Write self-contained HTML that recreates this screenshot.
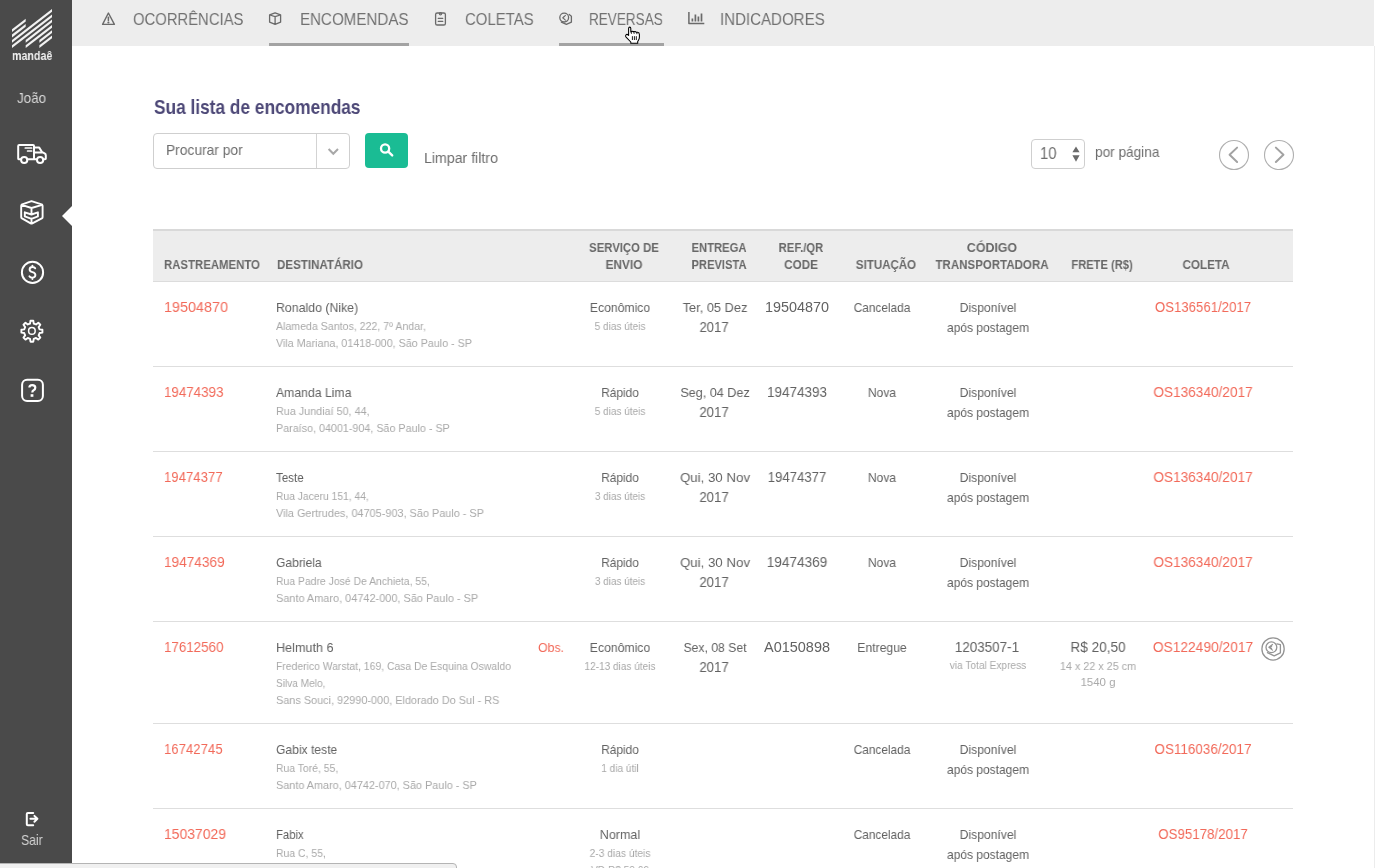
<!DOCTYPE html>
<html><head><meta charset="utf-8"><style>
html,body{margin:0;padding:0;}
body{width:1376px;height:868px;position:relative;overflow:hidden;background:#fff;font-family:"Liberation Sans",sans-serif;}
.t{position:absolute;white-space:nowrap;will-change:transform;}
</style></head><body>
<div style="position:absolute;left:0px;top:0px;width:72px;height:868px;background:#4a4a4a"></div>
<div style="position:absolute;left:72px;top:0px;width:1302px;height:46px;background:#ededed"></div>
<div style="position:absolute;left:1374px;top:46px;width:1px;height:822px;background:#ececec"></div>
<svg width="72" height="868" style="position:absolute;left:0;top:0">
<g fill="#f2f2f2"><polygon points="12,29.23 25.7,18.65 25.7,21.40 12,31.98"/><polygon points="12,34.62 25.7,24.05 25.7,26.80 12,37.38"/><polygon points="12,39.92 52,9.04 52,11.79 12,42.67"/><polygon points="12,45.33 52,14.45 52,17.20 12,48.08"/><polygon points="25.7,39.92 52,19.62 52,22.37 25.7,42.67"/><polygon points="25.7,45.33 52,25.02 52,27.77 25.7,48.08"/><polygon points="39.4,39.92 52,30.20 52,32.95 39.4,42.67"/><polygon points="39.4,45.33 52,35.60 52,38.35 39.4,48.08"/></g>
<g fill="none" stroke="#fff" stroke-width="2" stroke-linecap="round" stroke-linejoin="round">
 <path d="M20.9 159.2 H18.6 Q18.2 159.2 18.2 158.6 V146 Q18.2 145 19.2 145 H33 Q34 145 34 146 V159.2 M34 147.6 H39.2 L42.2 152.2 L44.6 153.4 Q45.8 154 45.8 155.2 V158.4 Q45.8 159.2 45 159.2 H43.6 M27.3 159.2 H36.9 M34 152.6 H42.6"/>
 <circle cx="24.2" cy="160" r="3.1"/>
 <circle cx="40.1" cy="160" r="3.1"/>
 <path d="M25.3 148 H31.6 M27.6 151 H31.6" stroke-width="1.7"/>
 <path d="M31.5 201.2 L41.6 204.4 Q42.6 204.8 42.6 205.8 V217.2 Q42.6 218 41.8 218.4 L32.3 223.4 Q31.5 223.8 30.7 223.4 L22 218.4 Q21.2 218 21.2 217.2 V205.8 Q21.2 204.8 22.2 204.4 Z M21.6 204.8 L31.5 208 L42.2 204.8 M31.5 208 V214.5 M31.5 218.8 V223.5 M24.8 212.3 L31.5 214.5 L37.9 212.3 V216.4 L31.5 218.8 L24.8 216.4 Z" stroke-width="1.9"/>
 <circle cx="32.5" cy="272.4" r="10.6"/>
 <path d="M35.2 268.3 Q34.5 267 32.4 267 Q29.6 267 29.6 269.5 Q29.6 271.5 32.4 272.2 Q35.4 272.9 35.4 275.1 Q35.4 277.6 32.4 277.6 Q30.2 277.6 29.4 276.2 M32.4 265.6 V267 M32.4 277.6 V279" stroke-width="1.9"/>
 <path d="M26.6 387.5 V380.2 M0 0" stroke-width="0"/>
 <rect x="22.1" y="379.8" width="20.8" height="21.1" rx="5" ry="5"/>
 <path d="M29.4 387.6 Q29.4 385.2 32.2 385.2 Q35.3 385.2 35.3 387.8 Q35.3 389.4 33.6 390.2 Q32.3 390.9 32.3 392.4" stroke-width="2.2" stroke-linecap="butt"/>
 <circle cx="31.9" cy="330.9" r="3.3" stroke-width="1.5"/>
 <path d="M33.2 812.9 H27.8 Q26.8 812.9 26.8 813.9 V824.3 Q26.8 825.3 27.8 825.3 H33.2" stroke-width="2"/>
 <path d="M30.4 818.8 H37.2 M34.4 815.9 L37.4 818.8 L34.4 821.8" stroke-width="2"/>
</g>
<rect x="30.6" y="394.2" width="2.8" height="2.6" fill="#fff"/>
<polygon points="30.06,323.52 30.49,320.69 33.31,320.69 33.74,323.52 36.03,324.46 38.33,322.77 40.33,324.77 38.64,327.07 39.58,329.36 42.41,329.79 42.41,332.61 39.58,333.04 38.64,335.33 40.33,337.63 38.33,339.63 36.03,337.94 33.74,338.88 33.31,341.71 30.49,341.71 30.06,338.88 27.77,337.94 25.47,339.63 23.47,337.63 25.16,335.33 24.22,333.04 21.39,332.61 21.39,329.79 24.22,329.36 25.16,327.07 23.47,324.77 25.47,322.77 27.77,324.46" fill="none" stroke="#fff" stroke-width="1.9" stroke-linejoin="round"/>
<polygon points="62,216 72,206 72,226" fill="#fff"/>
</svg>
<div class="t" style="left:11.80px;top:46.93px;font-size:13.2px;line-height:17px;color:#f0f0f0;font-weight:bold;transform:scaleX(0.8097);transform-origin:0 0;">mandaê</div>
<div class="t" style="left:17.40px;top:89.34px;font-size:14.6px;line-height:19px;color:#d8d8d8;transform:scaleX(0.9185);transform-origin:0 0;">João</div>
<div class="t" style="left:21.20px;top:830.54px;font-size:14.6px;line-height:19px;color:#d4d4d4;transform:scaleX(0.8388);transform-origin:0 0;">Sair</div>
<div class="t" style="left:133.00px;top:8.91px;font-size:17px;line-height:22px;color:#717171;transform:scaleX(0.8723);transform-origin:0 0;">OCORRÊNCIAS</div>
<div class="t" style="left:299.80px;top:8.91px;font-size:17px;line-height:22px;color:#717171;transform:scaleX(0.8901);transform-origin:0 0;">ENCOMENDAS</div>
<div class="t" style="left:464.50px;top:8.91px;font-size:17px;line-height:22px;color:#717171;transform:scaleX(0.8782);transform-origin:0 0;">COLETAS</div>
<div class="t" style="left:589.30px;top:8.91px;font-size:17px;line-height:22px;color:#717171;transform:scaleX(0.7962);transform-origin:0 0;">REVERSAS</div>
<div class="t" style="left:719.50px;top:8.91px;font-size:17px;line-height:22px;color:#717171;transform:scaleX(0.8868);transform-origin:0 0;">INDICADORES</div>
<div style="position:absolute;left:269px;top:43px;width:140px;height:3px;background:#a3a3a3"></div>
<div style="position:absolute;left:559px;top:43px;width:105px;height:3px;background:#a3a3a3"></div>
<svg width="1376" height="60" style="position:absolute;left:0;top:0">
<g fill="none" stroke="#6a6a6a" stroke-width="1.4" stroke-linejoin="round" stroke-linecap="round">
 <path d="M108.4 13 L114.4 24.4 H102.6 Z"/>
 <path d="M108.4 17.2 V20.4" stroke-width="1.5"/>
 <circle cx="108.4" cy="22.5" r="0.5" stroke-width="1.2"/>
 <path d="M275.1 12.8 L280.6 14.9 V22.2 L275.1 24.4 L269.6 22.2 V14.9 Z M269.9 15 L275.1 16.6 L280.3 15 M275.1 16.6 V24.2" stroke-width="1.3"/>
 <rect x="435.6" y="13" width="9.8" height="12" rx="1.6" stroke-width="1.3"/>
 <circle cx="440.5" cy="13.8" r="1.1" stroke-width="1.2"/>
 <path d="M438.3 18.4 H442.7 M438.3 21.4 H442.7" stroke-width="1.3"/>
 <path d="M569.2 14.4 L571.4 16.2 V22.2 L566.4 24.4 L561.4 22.2" stroke-width="1.3"/>
 <circle cx="564.2" cy="17.6" r="4.4" stroke-width="1.3"/>
 <path d="M565.4 15.4 L563 17.8 L565.4 20.2 M563.9 16.6 L562.7 17.8" stroke-width="1.1"/>
 <path d="M688.9 12 V23.5 H704.3" stroke-width="1.5" stroke-linecap="butt"/>
 <path d="M692.4 18.6 V21.4 M695.4 14.5 V21.4 M698.4 16.6 V21.4 M701.5 13.5 V21.4" stroke-width="1.7" stroke-linecap="butt"/>
</g>
<path d="M8.6 13.4 V6.4 Q8.6 5.1 9.7 5.1 Q10.8 5.1 10.8 6.4 V10 Q11 9.2 12.1 9.2 Q13.2 9.2 13.4 10 Q13.8 9.5 14.8 9.5 Q15.9 9.5 16.2 10.4 Q16.6 10.1 17.5 10.2 Q19.4 10.5 19.4 12.4 V15 Q19.4 16.6 18.6 18 L17.7 19.6 V21.2 H10.8 V20 L6.1 15.1 Q5 13.8 6 12.8 Q7.2 11.8 8.6 13.4 Z" transform="translate(620,22)" fill="#fff" stroke="#000" stroke-width="1.05" stroke-linejoin="round"/>
<path d="M11.4 10.2 V11.8 M14.1 10.2 V11.8 M16.9 10.6 V12.2 M12.4 14.2 V18 M14.4 14.2 V18 M16.3 14.2 V18" transform="translate(620,22)" stroke="#000" stroke-width="0.9"/>
</svg>
<div class="t" style="left:153.60px;top:94.30px;font-size:19.9px;line-height:26px;color:#4d4877;font-weight:bold;transform:scaleX(0.8688);transform-origin:0 0;">Sua lista de encomendas</div>
<div style="position:absolute;left:153px;top:133px;width:197px;height:36px;box-sizing:border-box;border:1px solid #cfcfcf;border-radius:4px;background:#fff"></div>
<div style="position:absolute;left:316px;top:134px;width:1px;height:34px;background:#d3d3d3"></div>
<div class="t" style="left:166.40px;top:141.17px;font-size:14.8px;line-height:19px;color:#6e6e6e;transform:scaleX(0.9333);transform-origin:0 0;">Procurar por</div>
<div style="position:absolute;left:365px;top:133px;width:43px;height:35px;background:#1abc94;border-radius:4px"></div>
<div style="position:absolute;left:1031px;top:139px;width:54px;height:30px;box-sizing:border-box;border:1px solid #cfcfcf;border-radius:4px;background:#fff"></div>
<svg width="1376" height="200" style="position:absolute;left:0;top:0">
<path d="M328.6 149 L333.3 153.8 L338 149" fill="none" stroke="#a8a8a8" stroke-width="2"/>
<circle cx="385.1" cy="148.5" r="4.1" fill="none" stroke="#fff" stroke-width="2.3"/>
<path d="M388.3 151.7 L392.2 155.4" stroke="#fff" stroke-width="2.4" stroke-linecap="round"/>
<circle cx="1234" cy="155" r="14.5" fill="none" stroke="#b0b0b0" stroke-width="1.1"/>
<circle cx="1279" cy="155" r="14.5" fill="none" stroke="#b0b0b0" stroke-width="1.1"/>
<path d="M1237.1 147.6 L1229.6 154.8 L1237.1 162" fill="none" stroke="#a2a2a2" stroke-width="2" stroke-linecap="round" stroke-linejoin="round"/>
<path d="M1275.9 147.6 L1283.4 154.8 L1275.9 162" fill="none" stroke="#a2a2a2" stroke-width="2" stroke-linecap="round" stroke-linejoin="round"/>
<path d="M1076 146.4 L1079.6 152.2 H1072.4 Z M1076 161.8 L1079.6 155.2 H1072.4 Z" fill="#6a6a6a"/>
</svg>
<div class="t" style="left:424.00px;top:147.93px;font-size:15.2px;line-height:20px;color:#6e6e6e;transform:scaleX(0.9318);transform-origin:0 0;">Limpar filtro</div>
<div class="t" style="left:1039.60px;top:142.51px;font-size:17px;line-height:22px;color:#6e6e6e;transform:scaleX(0.8691);transform-origin:0 0;">10</div>
<div class="t" style="left:1095.00px;top:142.98px;font-size:14.2px;line-height:18px;color:#6e6e6e;transform:scaleX(0.9603);transform-origin:0 0;">por página</div>
<div style="position:absolute;left:153px;top:229px;width:1140px;height:2px;background:#d9d9d9"></div>
<div style="position:absolute;left:153px;top:231px;width:1140px;height:50px;background:#ededed"></div>
<div style="position:absolute;left:153px;top:281px;width:1140px;height:1px;background:#dcdcdc"></div>
<div class="t" style="left:163.50px;top:255.93px;font-size:12.9px;line-height:17px;color:#686868;font-weight:bold;transform:scaleX(0.8833);transform-origin:0 0;">RASTREAMENTO</div>
<div class="t" style="left:276.50px;top:255.93px;font-size:12.9px;line-height:17px;color:#686868;font-weight:bold;transform:scaleX(0.8979);transform-origin:0 0;">DESTINATÁRIO</div>
<div class="t" style="left:324.00px;width:600px;text-align:center;top:238.93px;font-size:12.9px;line-height:17px;color:#686868;font-weight:bold;transform:scaleX(0.8798);transform-origin:50% 0;">SERVIÇO DE</div>
<div class="t" style="left:324.01px;width:600px;text-align:center;top:255.93px;font-size:12.9px;line-height:17px;color:#686868;font-weight:bold;transform:scaleX(0.9223);transform-origin:50% 0;">ENVIO</div>
<div class="t" style="left:418.50px;width:600px;text-align:center;top:238.93px;font-size:12.9px;line-height:17px;color:#686868;font-weight:bold;transform:scaleX(0.8719);transform-origin:50% 0;">ENTREGA</div>
<div class="t" style="left:418.51px;width:600px;text-align:center;top:255.93px;font-size:12.9px;line-height:17px;color:#686868;font-weight:bold;transform:scaleX(0.8657);transform-origin:50% 0;">PREVISTA</div>
<div class="t" style="left:501.00px;width:600px;text-align:center;top:238.93px;font-size:12.9px;line-height:17px;color:#686868;font-weight:bold;transform:scaleX(0.8784);transform-origin:50% 0;">REF./QR</div>
<div class="t" style="left:501.00px;width:600px;text-align:center;top:255.93px;font-size:12.9px;line-height:17px;color:#686868;font-weight:bold;transform:scaleX(0.9120);transform-origin:50% 0;">CODE</div>
<div class="t" style="left:585.91px;width:600px;text-align:center;top:255.93px;font-size:12.9px;line-height:17px;color:#686868;font-weight:bold;transform:scaleX(0.8940);transform-origin:50% 0;">SITUAÇÃO</div>
<div class="t" style="left:691.80px;width:600px;text-align:center;top:238.93px;font-size:12.9px;line-height:17px;color:#686868;font-weight:bold;transform:scaleX(0.9616);transform-origin:50% 0;">CÓDIGO</div>
<div class="t" style="left:691.80px;width:600px;text-align:center;top:255.93px;font-size:12.9px;line-height:17px;color:#686868;font-weight:bold;transform:scaleX(0.8941);transform-origin:50% 0;">TRANSPORTADORA</div>
<div class="t" style="left:802.00px;width:600px;text-align:center;top:255.93px;font-size:12.9px;line-height:17px;color:#686868;font-weight:bold;transform:scaleX(0.8640);transform-origin:50% 0;">FRETE (R$)</div>
<div class="t" style="left:906.41px;width:600px;text-align:center;top:255.93px;font-size:12.9px;line-height:17px;color:#686868;font-weight:bold;transform:scaleX(0.9030);transform-origin:50% 0;">COLETA</div>
<div class="t" style="left:163.60px;top:297.00px;font-size:15.0px;line-height:20px;color:#f26a5a;transform:scaleX(0.9588);transform-origin:0 0;">19504870</div>
<div class="t" style="left:276.40px;top:299.09px;font-size:13.3px;line-height:17px;color:#626262;transform:scaleX(0.9266);transform-origin:0 0;">Ronaldo (Nike)</div>
<div class="t" style="left:276.40px;top:319.12px;font-size:11.5px;line-height:15px;color:#a9a9a9;transform:scaleX(0.9215);transform-origin:0 0;">Alameda Santos, 222, 7º Andar,</div>
<div class="t" style="left:276.40px;top:336.12px;font-size:11.5px;line-height:15px;color:#a9a9a9;transform:scaleX(0.9324);transform-origin:0 0;">Vila Mariana, 01418-000, São Paulo - SP</div>
<div class="t" style="left:320.21px;width:600px;text-align:center;top:299.09px;font-size:13.3px;line-height:17px;color:#626262;transform:scaleX(0.9153);transform-origin:50% 0;">Econômico</div>
<div class="t" style="left:320.09px;width:600px;text-align:center;top:318.71px;font-size:11.8px;line-height:15px;color:#a9a9a9;transform:scaleX(0.8525);transform-origin:50% 0;">5 dias úteis</div>
<div class="t" style="left:414.69px;width:600px;text-align:center;top:299.06px;font-size:13.4px;line-height:17px;color:#626262;transform:scaleX(0.9557);transform-origin:50% 0;">Ter, 05 Dez</div>
<div class="t" style="left:414.30px;width:600px;text-align:center;top:318.92px;font-size:13.8px;line-height:18px;color:#626262;transform:scaleX(0.9510);transform-origin:50% 0;">2017</div>
<div class="t" style="left:497.00px;width:600px;text-align:center;top:297.71px;font-size:14.4px;line-height:19px;color:#626262;transform:scaleX(1.0003);transform-origin:50% 0;">19504870</div>
<div class="t" style="left:581.98px;width:600px;text-align:center;top:299.09px;font-size:13.3px;line-height:17px;color:#626262;transform:scaleX(0.8894);transform-origin:50% 0;">Cancelada</div>
<div class="t" style="left:687.69px;width:600px;text-align:center;top:299.09px;font-size:13.3px;line-height:17px;color:#626262;transform:scaleX(0.9129);transform-origin:50% 0;">Disponível</div>
<div class="t" style="left:687.59px;width:600px;text-align:center;top:318.69px;font-size:13.3px;line-height:17px;color:#626262;transform:scaleX(0.9014);transform-origin:50% 0;">após postagem</div>
<div class="t" style="left:902.60px;width:600px;text-align:center;top:297.54px;font-size:14.9px;line-height:19px;color:#f26a5a;transform:scaleX(0.8853);transform-origin:50% 0;">OS136561/2017</div>
<div style="position:absolute;left:153px;top:366px;width:1140px;height:1px;background:#dedede"></div>
<div class="t" style="left:163.60px;top:382.00px;font-size:15.0px;line-height:20px;color:#f26a5a;transform:scaleX(0.8899);transform-origin:0 0;">19474393</div>
<div class="t" style="left:276.40px;top:384.09px;font-size:13.3px;line-height:17px;color:#626262;transform:scaleX(0.9193);transform-origin:0 0;">Amanda Lima</div>
<div class="t" style="left:276.40px;top:404.12px;font-size:11.5px;line-height:15px;color:#a9a9a9;transform:scaleX(0.9382);transform-origin:0 0;">Rua Jundiaí 50, 44,</div>
<div class="t" style="left:276.40px;top:421.12px;font-size:11.5px;line-height:15px;color:#a9a9a9;transform:scaleX(0.9341);transform-origin:0 0;">Paraíso, 04001-904, São Paulo - SP</div>
<div class="t" style="left:320.19px;width:600px;text-align:center;top:384.09px;font-size:13.3px;line-height:17px;color:#626262;transform:scaleX(0.8894);transform-origin:50% 0;">Rápido</div>
<div class="t" style="left:320.09px;width:600px;text-align:center;top:403.71px;font-size:11.8px;line-height:15px;color:#a9a9a9;transform:scaleX(0.8491);transform-origin:50% 0;">5 dias úteis</div>
<div class="t" style="left:414.69px;width:600px;text-align:center;top:384.06px;font-size:13.4px;line-height:17px;color:#626262;transform:scaleX(0.9408);transform-origin:50% 0;">Seg, 04 Dez</div>
<div class="t" style="left:414.30px;width:600px;text-align:center;top:403.92px;font-size:13.8px;line-height:18px;color:#626262;transform:scaleX(0.9575);transform-origin:50% 0;">2017</div>
<div class="t" style="left:497.00px;width:600px;text-align:center;top:382.71px;font-size:14.4px;line-height:19px;color:#626262;transform:scaleX(0.9363);transform-origin:50% 0;">19474393</div>
<div class="t" style="left:581.97px;width:600px;text-align:center;top:384.09px;font-size:13.3px;line-height:17px;color:#626262;transform:scaleX(0.9061);transform-origin:50% 0;">Nova</div>
<div class="t" style="left:687.69px;width:600px;text-align:center;top:384.09px;font-size:13.3px;line-height:17px;color:#626262;transform:scaleX(0.9129);transform-origin:50% 0;">Disponível</div>
<div class="t" style="left:687.59px;width:600px;text-align:center;top:403.69px;font-size:13.3px;line-height:17px;color:#626262;transform:scaleX(0.9014);transform-origin:50% 0;">após postagem</div>
<div class="t" style="left:902.60px;width:600px;text-align:center;top:382.54px;font-size:14.9px;line-height:19px;color:#f26a5a;transform:scaleX(0.9148);transform-origin:50% 0;">OS136340/2017</div>
<div style="position:absolute;left:153px;top:451px;width:1140px;height:1px;background:#dedede"></div>
<div class="t" style="left:163.60px;top:467.00px;font-size:15.0px;line-height:20px;color:#f26a5a;transform:scaleX(0.8779);transform-origin:0 0;">19474377</div>
<div class="t" style="left:276.40px;top:469.09px;font-size:13.3px;line-height:17px;color:#626262;transform:scaleX(0.8683);transform-origin:0 0;">Teste</div>
<div class="t" style="left:276.40px;top:489.12px;font-size:11.5px;line-height:15px;color:#a9a9a9;transform:scaleX(0.8961);transform-origin:0 0;">Rua Jaceru 151, 44,</div>
<div class="t" style="left:276.40px;top:506.12px;font-size:11.5px;line-height:15px;color:#a9a9a9;transform:scaleX(0.9467);transform-origin:0 0;">Vila Gertrudes, 04705-903, São Paulo - SP</div>
<div class="t" style="left:320.19px;width:600px;text-align:center;top:469.09px;font-size:13.3px;line-height:17px;color:#626262;transform:scaleX(0.8894);transform-origin:50% 0;">Rápido</div>
<div class="t" style="left:320.09px;width:600px;text-align:center;top:488.71px;font-size:11.8px;line-height:15px;color:#a9a9a9;transform:scaleX(0.8424);transform-origin:50% 0;">3 dias úteis</div>
<div class="t" style="left:414.70px;width:600px;text-align:center;top:469.06px;font-size:13.4px;line-height:17px;color:#626262;transform:scaleX(0.9894);transform-origin:50% 0;">Qui, 30 Nov</div>
<div class="t" style="left:414.30px;width:600px;text-align:center;top:488.92px;font-size:13.8px;line-height:18px;color:#626262;transform:scaleX(0.9575);transform-origin:50% 0;">2017</div>
<div class="t" style="left:497.00px;width:600px;text-align:center;top:467.71px;font-size:14.4px;line-height:19px;color:#626262;transform:scaleX(0.9145);transform-origin:50% 0;">19474377</div>
<div class="t" style="left:581.97px;width:600px;text-align:center;top:469.09px;font-size:13.3px;line-height:17px;color:#626262;transform:scaleX(0.9061);transform-origin:50% 0;">Nova</div>
<div class="t" style="left:687.69px;width:600px;text-align:center;top:469.09px;font-size:13.3px;line-height:17px;color:#626262;transform:scaleX(0.9129);transform-origin:50% 0;">Disponível</div>
<div class="t" style="left:687.59px;width:600px;text-align:center;top:488.69px;font-size:13.3px;line-height:17px;color:#626262;transform:scaleX(0.9014);transform-origin:50% 0;">após postagem</div>
<div class="t" style="left:902.60px;width:600px;text-align:center;top:467.54px;font-size:14.9px;line-height:19px;color:#f26a5a;transform:scaleX(0.9148);transform-origin:50% 0;">OS136340/2017</div>
<div style="position:absolute;left:153px;top:536px;width:1140px;height:1px;background:#dedede"></div>
<div class="t" style="left:163.60px;top:552.00px;font-size:15.0px;line-height:20px;color:#f26a5a;transform:scaleX(0.9079);transform-origin:0 0;">19474369</div>
<div class="t" style="left:276.40px;top:554.09px;font-size:13.3px;line-height:17px;color:#626262;transform:scaleX(0.9098);transform-origin:0 0;">Gabriela</div>
<div class="t" style="left:276.40px;top:574.12px;font-size:11.5px;line-height:15px;color:#a9a9a9;transform:scaleX(0.9046);transform-origin:0 0;">Rua Padre José De Anchieta, 55,</div>
<div class="t" style="left:276.40px;top:591.12px;font-size:11.5px;line-height:15px;color:#a9a9a9;transform:scaleX(0.9496);transform-origin:0 0;">Santo Amaro, 04742-000, São Paulo - SP</div>
<div class="t" style="left:320.19px;width:600px;text-align:center;top:554.09px;font-size:13.3px;line-height:17px;color:#626262;transform:scaleX(0.8894);transform-origin:50% 0;">Rápido</div>
<div class="t" style="left:320.09px;width:600px;text-align:center;top:573.71px;font-size:11.8px;line-height:15px;color:#a9a9a9;transform:scaleX(0.8424);transform-origin:50% 0;">3 dias úteis</div>
<div class="t" style="left:414.70px;width:600px;text-align:center;top:554.06px;font-size:13.4px;line-height:17px;color:#626262;transform:scaleX(0.9894);transform-origin:50% 0;">Qui, 30 Nov</div>
<div class="t" style="left:414.30px;width:600px;text-align:center;top:573.92px;font-size:13.8px;line-height:18px;color:#626262;transform:scaleX(0.9575);transform-origin:50% 0;">2017</div>
<div class="t" style="left:497.00px;width:600px;text-align:center;top:552.71px;font-size:14.4px;line-height:19px;color:#626262;transform:scaleX(0.9457);transform-origin:50% 0;">19474369</div>
<div class="t" style="left:581.97px;width:600px;text-align:center;top:554.09px;font-size:13.3px;line-height:17px;color:#626262;transform:scaleX(0.9061);transform-origin:50% 0;">Nova</div>
<div class="t" style="left:687.69px;width:600px;text-align:center;top:554.09px;font-size:13.3px;line-height:17px;color:#626262;transform:scaleX(0.9129);transform-origin:50% 0;">Disponível</div>
<div class="t" style="left:687.59px;width:600px;text-align:center;top:573.69px;font-size:13.3px;line-height:17px;color:#626262;transform:scaleX(0.9014);transform-origin:50% 0;">após postagem</div>
<div class="t" style="left:902.60px;width:600px;text-align:center;top:552.54px;font-size:14.9px;line-height:19px;color:#f26a5a;transform:scaleX(0.9148);transform-origin:50% 0;">OS136340/2017</div>
<div style="position:absolute;left:153px;top:621px;width:1140px;height:1px;background:#dedede"></div>
<div class="t" style="left:163.60px;top:637.00px;font-size:15.0px;line-height:20px;color:#f26a5a;transform:scaleX(0.8899);transform-origin:0 0;">17612560</div>
<div class="t" style="left:276.40px;top:639.09px;font-size:13.3px;line-height:17px;color:#626262;transform:scaleX(0.9497);transform-origin:0 0;">Helmuth 6</div>
<div class="t" style="left:276.40px;top:659.12px;font-size:11.5px;line-height:15px;color:#a9a9a9;transform:scaleX(0.9026);transform-origin:0 0;">Frederico Warstat, 169, Casa De Esquina Oswaldo</div>
<div class="t" style="left:276.40px;top:676.12px;font-size:11.5px;line-height:15px;color:#a9a9a9;transform:scaleX(0.8785);transform-origin:0 0;">Silva Melo,</div>
<div class="t" style="left:276.40px;top:693.12px;font-size:11.5px;line-height:15px;color:#a9a9a9;transform:scaleX(0.9465);transform-origin:0 0;">Sans Souci, 92990-000, Eldorado Do Sul - RS</div>
<div class="t" style="left:-36.38px;width:600px;text-align:right;top:639.09px;font-size:13.3px;line-height:17px;color:#f26a5a;transform:scaleX(0.9265);transform-origin:100% 0;">Obs.</div>
<div class="t" style="left:320.21px;width:600px;text-align:center;top:639.09px;font-size:13.3px;line-height:17px;color:#626262;transform:scaleX(0.9184);transform-origin:50% 0;">Econômico</div>
<div class="t" style="left:320.10px;width:600px;text-align:center;top:658.71px;font-size:11.8px;line-height:15px;color:#a9a9a9;transform:scaleX(0.8523);transform-origin:50% 0;">12-13 dias úteis</div>
<div class="t" style="left:414.70px;width:600px;text-align:center;top:639.06px;font-size:13.4px;line-height:17px;color:#626262;transform:scaleX(0.9108);transform-origin:50% 0;">Sex, 08 Set</div>
<div class="t" style="left:414.30px;width:600px;text-align:center;top:658.92px;font-size:13.8px;line-height:18px;color:#626262;transform:scaleX(0.9575);transform-origin:50% 0;">2017</div>
<div class="t" style="left:497.00px;width:600px;text-align:center;top:637.71px;font-size:14.4px;line-height:19px;color:#626262;transform:scaleX(1.0051);transform-origin:50% 0;">A0150898</div>
<div class="t" style="left:581.99px;width:600px;text-align:center;top:639.09px;font-size:13.3px;line-height:17px;color:#626262;transform:scaleX(0.9167);transform-origin:50% 0;">Entregue</div>
<div class="t" style="left:687.42px;width:600px;text-align:center;top:637.71px;font-size:14.4px;line-height:19px;color:#626262;transform:scaleX(0.9313);transform-origin:50% 0;">1203507-1</div>
<div class="t" style="left:687.60px;width:600px;text-align:center;top:658.41px;font-size:11.8px;line-height:15px;color:#a9a9a9;transform:scaleX(0.8598);transform-origin:50% 0;">via Total Express</div>
<div class="t" style="left:797.79px;width:600px;text-align:center;top:637.71px;font-size:14.4px;line-height:19px;color:#626262;transform:scaleX(0.9442);transform-origin:50% 0;">R$ 20,50</div>
<div class="t" style="left:797.90px;width:600px;text-align:center;top:658.52px;font-size:11.5px;line-height:15px;color:#a9a9a9;transform:scaleX(0.9385);transform-origin:50% 0;">14 x 22 x 25 cm</div>
<div class="t" style="left:797.99px;width:600px;text-align:center;top:675.22px;font-size:11.5px;line-height:15px;color:#a9a9a9;transform:scaleX(0.9946);transform-origin:50% 0;">1540 g</div>
<div class="t" style="left:902.60px;width:600px;text-align:center;top:637.54px;font-size:14.9px;line-height:19px;color:#f26a5a;transform:scaleX(0.9231);transform-origin:50% 0;">OS122490/2017</div>
<svg width="30" height="30" style="position:absolute;left:1258px;top:634px">
<g transform="translate(-1258,-634)" fill="none" stroke="#949494" stroke-linejoin="round" stroke-linecap="round">
<circle cx="1273.05" cy="648.95" r="11.15" stroke-width="1.3"/>
<circle cx="1271.4" cy="647.3" r="5.4" stroke-width="1.3"/>
<path d="M1276.9 643.8 L1280.4 644.6 V652.8 L1274.2 655.9 L1267.4 652.7" stroke-width="1.3"/>
<path d="M1272.5 644.5 L1268.9 647.3 L1272.5 650.1 M1271.6 646.2 L1270.3 647.3 L1271.6 648.4" stroke-width="1.2"/>
</g></svg>
<div style="position:absolute;left:153px;top:723px;width:1140px;height:1px;background:#dedede"></div>
<div class="t" style="left:163.60px;top:739.00px;font-size:15.0px;line-height:20px;color:#f26a5a;transform:scaleX(0.8779);transform-origin:0 0;">16742745</div>
<div class="t" style="left:276.40px;top:741.09px;font-size:13.3px;line-height:17px;color:#626262;transform:scaleX(0.9109);transform-origin:0 0;">Gabix teste</div>
<div class="t" style="left:276.40px;top:761.12px;font-size:11.5px;line-height:15px;color:#a9a9a9;transform:scaleX(0.9037);transform-origin:0 0;">Rua Toré, 55,</div>
<div class="t" style="left:276.40px;top:778.12px;font-size:11.5px;line-height:15px;color:#a9a9a9;transform:scaleX(0.9435);transform-origin:0 0;">Santo Amaro, 04742-070, São Paulo - SP</div>
<div class="t" style="left:320.19px;width:600px;text-align:center;top:741.09px;font-size:13.3px;line-height:17px;color:#626262;transform:scaleX(0.8894);transform-origin:50% 0;">Rápido</div>
<div class="t" style="left:320.10px;width:600px;text-align:center;top:760.71px;font-size:11.8px;line-height:15px;color:#a9a9a9;transform:scaleX(0.8531);transform-origin:50% 0;">1 dia útil</div>
<div class="t" style="left:581.98px;width:600px;text-align:center;top:741.09px;font-size:13.3px;line-height:17px;color:#626262;transform:scaleX(0.8894);transform-origin:50% 0;">Cancelada</div>
<div class="t" style="left:687.69px;width:600px;text-align:center;top:741.09px;font-size:13.3px;line-height:17px;color:#626262;transform:scaleX(0.9129);transform-origin:50% 0;">Disponível</div>
<div class="t" style="left:687.59px;width:600px;text-align:center;top:760.69px;font-size:13.3px;line-height:17px;color:#626262;transform:scaleX(0.9014);transform-origin:50% 0;">após postagem</div>
<div class="t" style="left:902.60px;width:600px;text-align:center;top:739.54px;font-size:14.9px;line-height:19px;color:#f26a5a;transform:scaleX(0.9029);transform-origin:50% 0;">OS116036/2017</div>
<div style="position:absolute;left:153px;top:808px;width:1140px;height:1px;background:#dedede"></div>
<div class="t" style="left:163.60px;top:824.00px;font-size:15.0px;line-height:20px;color:#f26a5a;transform:scaleX(0.9288);transform-origin:0 0;">15037029</div>
<div class="t" style="left:276.40px;top:826.09px;font-size:13.3px;line-height:17px;color:#626262;transform:scaleX(0.8518);transform-origin:0 0;">Fabix</div>
<div class="t" style="left:276.40px;top:846.12px;font-size:11.5px;line-height:15px;color:#a9a9a9;transform:scaleX(0.9059);transform-origin:0 0;">Rua C, 55,</div>
<div class="t" style="left:320.19px;width:600px;text-align:center;top:826.09px;font-size:13.3px;line-height:17px;color:#626262;transform:scaleX(0.9396);transform-origin:50% 0;">Normal</div>
<div class="t" style="left:320.09px;width:600px;text-align:center;top:845.71px;font-size:11.8px;line-height:15px;color:#a9a9a9;transform:scaleX(0.8688);transform-origin:50% 0;">2-3 dias úteis</div>
<div class="t" style="left:320.10px;width:600px;text-align:center;top:862.71px;font-size:11.8px;line-height:15px;color:#a9a9a9;transform:scaleX(0.8586);transform-origin:50% 0;">VD R$ 50,00</div>
<div class="t" style="left:581.98px;width:600px;text-align:center;top:826.09px;font-size:13.3px;line-height:17px;color:#626262;transform:scaleX(0.8894);transform-origin:50% 0;">Cancelada</div>
<div class="t" style="left:687.69px;width:600px;text-align:center;top:826.09px;font-size:13.3px;line-height:17px;color:#626262;transform:scaleX(0.9129);transform-origin:50% 0;">Disponível</div>
<div class="t" style="left:687.59px;width:600px;text-align:center;top:845.69px;font-size:13.3px;line-height:17px;color:#626262;transform:scaleX(0.9014);transform-origin:50% 0;">após postagem</div>
<div class="t" style="left:902.59px;width:600px;text-align:center;top:824.54px;font-size:14.9px;line-height:19px;color:#f26a5a;transform:scaleX(0.8945);transform-origin:50% 0;">OS95178/2017</div>
<div style="position:absolute;left:-2px;top:863px;width:459px;height:10px;box-sizing:border-box;background:#f0f0f0;border:1px solid #b4b4b4;border-radius:0 4px 0 0"></div>
</body></html>
